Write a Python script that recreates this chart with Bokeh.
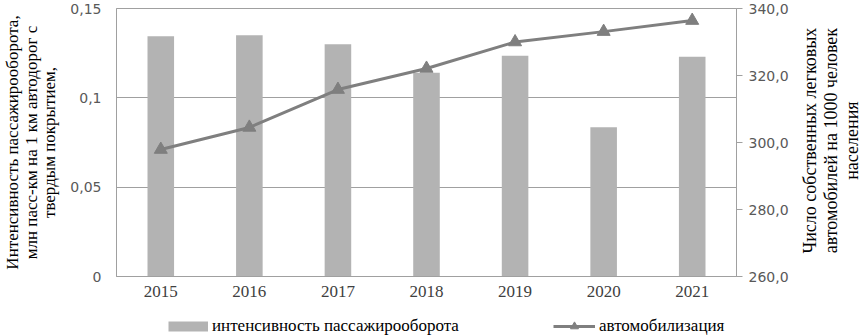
import math
from bokeh.plotting import figure
from bokeh.layouts import row, column
from bokeh.models import (FactorRange, Range1d, LinearAxis, FixedTicker,
                          CustomJSTickFormatter, Legend, LegendItem)
from bokeh.core.properties import value
from bokeh.embed import file_html
from bokeh.resources import INLINE

years = ["2015", "2016", "2017", "2018", "2019", "2020", "2021"]
intensity = [0.1345, 0.135, 0.130, 0.114, 0.1235, 0.0835, 0.123]
motorization = [297.9, 304.5, 315.8, 322.1, 330.0, 333.1, 336.4]
left_ticks = [0, 0.05, 0.1, 0.15]
right_ticks = [260, 280, 300, 320, 340]

bar_label = "интенсивность пассажирооборота"
line_label = "автомобилизация"
left_title = "Интенсивность пассажирооборота,\nмлн пасс-км на 1 км автодорог с\nтвердым покрытием,"
right_title = "Число собственных легковых\nавтомобилей на 1000 человек\nнаселения"

AX = "#a0a0a0"
BAR = "#b3b3b3"
LINE = "#7f7f7f"
SERIF = "Liberation Serif"
SANS = "DejaVu Sans"
NAN = float("nan")

TOTAL_W, TOTAL_H = 864, 336
MAIN_W, MAIN_H = 796, 306

p = figure(x_range=FactorRange(*years), y_range=Range1d(0, 0.15),
           width=MAIN_W, height=MAIN_H, output_backend="svg", toolbar_location=None,
           min_border_top=8, min_border_left=115, min_border_right=60, min_border_bottom=30)
p.extra_y_ranges = {"auto": Range1d(260, 340)}

p.outline_line_color = AX
p.outline_line_width = 1
p.xgrid.grid_line_color = None
p.ygrid.ticker = FixedTicker(ticks=left_ticks)
p.ygrid.grid_line_color = AX
p.ygrid.grid_line_width = 1

bars = p.vbar(x=years, top=intensity, width=0.3, fill_color=BAR, line_color=None)
line = p.line(x=years, y=motorization, y_range_name="auto", line_color=LINE, line_width=3)
tri = p.scatter(x=years, y=motorization, y_range_name="auto", marker="triangle", size=13,
                fill_color=LINE, line_color=LINE)

# x axis
xa = p.xaxis[0]
xa.axis_line_color = AX
xa.major_tick_line_color = None
xa.major_tick_in = 0
xa.major_tick_out = 0
xa.minor_tick_line_color = None
xa.major_label_text_font = SERIF
xa.major_label_text_font_size = "17px"
xa.major_label_text_color = "#404040"
xa.major_label_standoff = 9

# left axis
ya = p.yaxis[0]
ya.ticker = FixedTicker(ticks=left_ticks)
ya.formatter = CustomJSTickFormatter(code="return tick.toString().replace('.', ',');")
ya.axis_line_color = AX
ya.major_tick_line_color = None
ya.major_tick_in = 0
ya.major_tick_out = 0
ya.minor_tick_line_color = None
ya.major_label_text_font = SANS
ya.major_label_text_font_size = "14px"
ya.major_label_text_color = "#595959"
ya.major_label_standoff = 15
ya.axis_label = left_title
ya.axis_label_text_font = SERIF
ya.axis_label_text_font_size = "17px"
ya.axis_label_text_font_style = "normal"
ya.axis_label_text_color = "#000000"
ya.axis_label_text_line_height = 0.98
ya.axis_label_standoff = 8

# right axis (ticks and labels only; title drawn in its own strip)
ra = LinearAxis(y_range_name="auto", ticker=FixedTicker(ticks=right_ticks),
                formatter=CustomJSTickFormatter(code="return tick.toFixed(1).replace('.', ',');"))
ra.axis_line_color = AX
ra.major_tick_line_color = AX
ra.major_tick_in = 0
ra.major_tick_out = 6
ra.minor_tick_line_color = None
ra.major_label_text_font = SANS
ra.major_label_text_font_size = "14px"
ra.major_label_text_color = "#595959"
ra.major_label_standoff = 6
p.add_layout(ra, "right")

# legend strip (its frame is aligned with the chart frame by the column layout)
lf = figure(width=MAIN_W, height=TOTAL_H - MAIN_H, output_backend="svg", toolbar_location=None,
            x_range=Range1d(0, 1), y_range=Range1d(0, 1),
            x_axis_location=None, y_axis_location=None,
            min_border=0, outline_line_color=None)
lf.grid.visible = False
bar_proxy = lf.line(x=[NAN], y=[NAN], line_color=BAR, line_width=10)
line_proxy = lf.line(x=[NAN], y=[NAN], line_color=LINE, line_width=3)
tri_proxy = lf.scatter(x=[NAN], y=[NAN], marker="triangle", size=10,
                       fill_color=LINE, line_color=LINE)

common = dict(orientation="horizontal", border_line_color=None, background_fill_alpha=0,
              label_text_font=SERIF, label_text_font_size="17px", label_text_color="#000000",
              glyph_height=20, label_height=20, padding=0, margin=0, label_standoff=4)
leg1 = Legend(items=[LegendItem(label=bar_label, renderers=[bar_proxy])],
              location=(52, 0), glyph_width=40, **common)
leg2 = Legend(items=[LegendItem(label=line_label, renderers=[line_proxy, tri_proxy])],
              location=(437, 0), glyph_width=42, **common)
lf.add_layout(leg1, "center")
lf.add_layout(leg2, "center")

# right title strip
rf = figure(width=TOTAL_W - MAIN_W, height=TOTAL_H, output_backend="svg", toolbar_location=None,
            x_range=Range1d(0, 1), y_range=Range1d(0, 1),
            x_axis_location=None, y_axis_location=None,
            min_border=0, outline_line_color=None)
rf.grid.visible = False
rf.text(x=[0.5], y=[0.583], text=[right_title], angle=math.pi / 2,
        text_align="center", text_baseline="middle",
        text_font=value(SERIF), text_font_size="18px", text_color="#000000",
        text_line_height=1.05)

layout = row(column(p, lf), rf)
open("out.html", "w").write(file_html(layout, INLINE))
